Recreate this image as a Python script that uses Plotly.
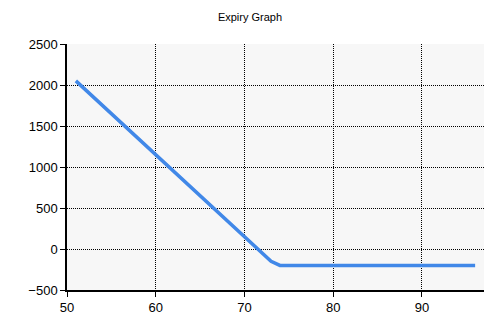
import plotly.graph_objects as go

x_prices = [51, 52, 53, 54, 55, 56, 57, 58, 59, 60, 61, 62, 63, 64, 65, 66, 67, 68, 69, 70,
            71, 72, 73, 74, 75, 76, 77, 78, 79, 80, 81, 82, 83, 84, 85, 86, 87, 88, 89, 90,
            91, 92, 93, 94, 95, 96]
y_payoff = [2050, 1950, 1850, 1750, 1650, 1550, 1450, 1350, 1250, 1150, 1050, 950, 850, 750,
            650, 550, 450, 350, 250, 150, 50, -50, -150, -200, -200, -200, -200, -200, -200,
            -200, -200, -200, -200, -200, -200, -200, -200, -200, -200, -200, -200, -200,
            -200, -200, -200, -200]
x_ticks = [50, 60, 70, 80, 90]
y_ticks = [-500, 0, 500, 1000, 1500, 2000, 2500]

fig = go.Figure()
fig.add_trace(go.Scatter(x=x_prices, y=y_payoff, mode="lines",
                         line=dict(color="#4188e8", width=3.5), showlegend=False))

fig.update_layout(
    width=500, height=333,
    margin=dict(l=67, r=16, t=44, b=43),
    paper_bgcolor="white",
    plot_bgcolor="#f7f7f7",
    font=dict(family="Liberation Sans, Arial, sans-serif", size=13, color="black"),
    title=dict(text="Expiry Graph", x=0.5, xanchor="center", y=1 - 17 / 333, yanchor="middle",
               font=dict(size=11, color="black")),
)
fig.update_xaxes(range=[50, 97], tickvals=x_ticks, showline=True, linecolor="black", linewidth=1.5,
                 ticks="outside", ticklen=5, tickcolor="black", showgrid=True, gridcolor="black",
                 griddash="1px,1px", gridwidth=1, zeroline=False, mirror=False,
                 tickfont=dict(size=13))
fig.update_yaxes(range=[-500, 2500], tickvals=y_ticks, showline=True, linecolor="black", linewidth=1.5,
                 ticks="outside", ticklen=5, tickcolor="black", showgrid=True, gridcolor="black",
                 griddash="1px,1px", gridwidth=1, zeroline=False, tickfont=dict(size=13))

fig.write_html("out.html")
